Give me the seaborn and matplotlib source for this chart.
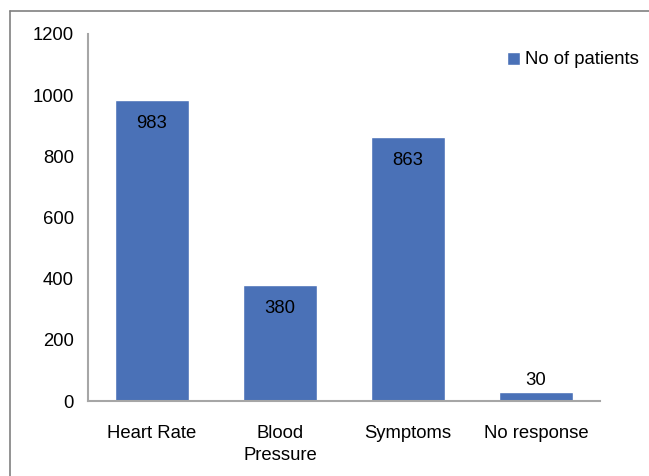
import pandas as pd
import seaborn as sns
import matplotlib.pyplot as plt
from matplotlib.lines import Line2D

# dados
categories = ['Heart Rate', 'Blood\nPressure', 'Symptoms', 'No response']
patients = [983, 380, 863, 30]
series_name = 'No of patients'

df = pd.DataFrame({'category': categories, 'patients': patients})

sns.set_theme(style='white')
plt.rcParams['font.family'] = ['Liberation Sans', 'DejaVu Sans']
plt.rcParams['text.color'] = 'black'

fs = 13.3
fig = plt.figure(figsize=(6.49, 4.76), dpi=100)
ax = fig.add_axes([88 / 649, 1 - 401 / 476, 512 / 649, 367 / 476])

sns.barplot(data=df, x='category', y='patients', color='#4A71B7',
            width=0.58, saturation=1, label=series_name, ax=ax)

ax.set_xlim(-0.5, 3.5)
ax.set_ylim(0, 1200)
ax.set_yticks(range(0, 1201, 200))
ax.set_xlabel('')
ax.set_ylabel('')
ax.tick_params(axis='y', length=0, pad=10, labelsize=fs, colors='black')
ax.tick_params(axis='x', length=0, pad=17, labelsize=fs, colors='black')
for lbl in ax.get_xticklabels():
    lbl.set_linespacing(1.45)

for side in ['top', 'right']:
    ax.spines[side].set_visible(False)
for side in ['left', 'bottom']:
    ax.spines[side].set_color('#A6A6A6')
    ax.spines[side].set_linewidth(1.5)

# rotulos dos valores
for i, v in enumerate(patients):
    if v > 100:
        ax.annotate(str(v), (i, v), xytext=(0, -17), textcoords='offset points',
                    ha='center', va='center', fontsize=fs, color='black')
    else:
        ax.annotate(str(v), (i, v), xytext=(0, 8), textcoords='offset points',
                    ha='center', va='center', fontsize=fs, color='black')

ax.legend(loc='center left', bbox_to_anchor=(507 / 649, 1 - 60 / 476),
          bbox_transform=fig.transFigure, frameon=False, fontsize=fs,
          handlelength=0.7, handleheight=0.7, handletextpad=0.3,
          borderaxespad=0, borderpad=0)

# moldura externa
fig.add_artist(Line2D([10 / 649, 1.0], [1 - 11 / 476] * 2, color='#808080', lw=1.2))
fig.add_artist(Line2D([10 / 649] * 2, [0, 1 - 11 / 476], color='#808080', lw=1.2))

plt.savefig('out.png', dpi=100)
